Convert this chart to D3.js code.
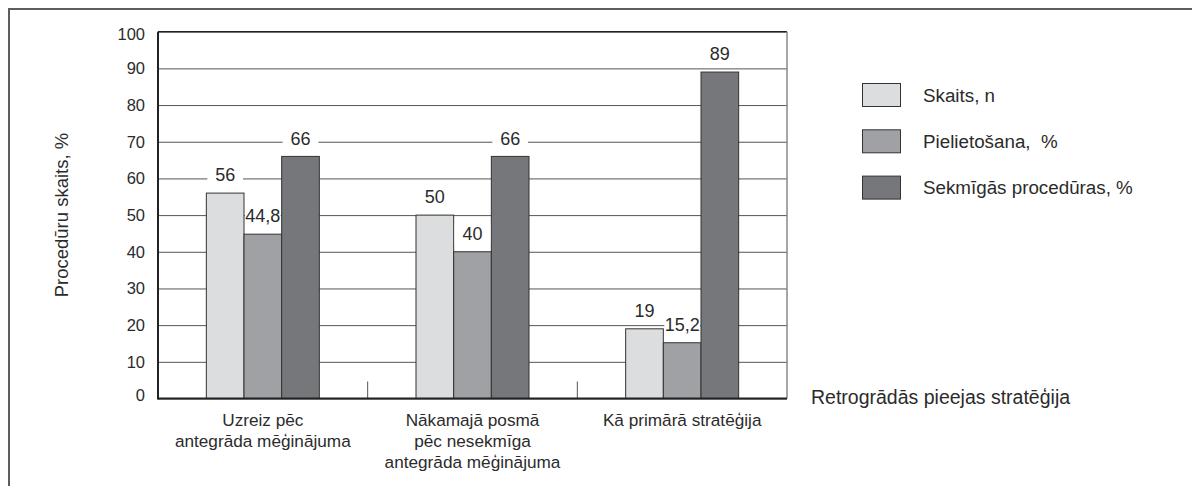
<!DOCTYPE html>
<html><head><meta charset="utf-8">
<script src="https://cdn.jsdelivr.net/npm/d3@7"></script>
<style>body{margin:0;background:#fff}svg{display:block}text{font-family:"Liberation Sans","DejaVu Sans",sans-serif;fill:#2b2b2b;white-space:pre}</style>
</head><body>
<script>
const categories = [["Uzreiz pēc","antegrāda mēģinājuma"],["Nākamajā posmā","pēc nesekmīga","antegrāda mēģinājuma"],["Kā primārā stratēģija"]];
const seriesNames = ["Skaits, n","Pielietošana,  %","Sekmīgās procedūras, %"];
const skaits = [56, 50, 19];
const pielietosana = [44.8, 40, 15.2];
const sekmigas = [66, 66, 89];
const valueLabels = [["56","50","19"],["44,8","40","15,2"],["66","66","89"]];
const yTicks = [0,10,20,30,40,50,60,70,80,90,100];
const colors = ["#dcdddf","#a0a1a4","#76777b"];
const series = [skaits, pielietosana, sekmigas];

const W = 1192, H = 486;
const svg = d3.select("body").append("svg").attr("width", W).attr("height", H);
const m = {l:158, r:787, t:31.7, b:398.5};

// outer frame (top + left)
svg.append("line").attr("x1",9).attr("x2",W).attr("y1",9).attr("y2",9).attr("stroke","#5e5e5e").attr("stroke-width",2);
svg.append("line").attr("x1",9).attr("x2",9).attr("y1",8).attr("y2",H).attr("stroke","#5e5e5e").attr("stroke-width",2);

const x = d3.scaleBand().domain(d3.range(categories.length)).range([m.l, m.r]).paddingInner(0).paddingOuter(0);
const groupW = 113;
const x1 = d3.scaleBand().domain(d3.range(series.length))
  .range([(x.bandwidth()-groupW)/2, (x.bandwidth()+groupW)/2]).paddingInner(0).paddingOuter(0);
const y = d3.scaleLinear().domain([0,100]).range([m.b, m.t]);

// gridlines
const yAxis = d3.axisLeft(y).tickValues(yTicks).tickSize(-(m.r-m.l)).tickFormat(d=>d);
const ga = svg.append("g").attr("transform",`translate(${m.l},0)`).call(yAxis);
ga.select(".domain").remove();
ga.selectAll(".tick line").attr("stroke","#555").attr("stroke-width",1);
ga.selectAll(".tick text").attr("x",-13).style("font-size","16.5px").attr("fill","#2b2b2b")
  .attr("dy", d => d===100 ? "0.5em" : d===0 ? "0.1em" : "0.32em");

// plot border top & right
svg.append("line").attr("x1",m.l).attr("x2",m.r).attr("y1",m.t).attr("y2",m.t).attr("stroke","#222").attr("stroke-width",1.3);
svg.append("line").attr("x1",m.r).attr("x2",m.r).attr("y1",m.t).attr("y2",m.b).attr("stroke","#888").attr("stroke-width",1.5);

// category separators
d3.range(1, categories.length).forEach(i=>{
  const xx = x(i);
  svg.append("line").attr("x1",xx).attr("x2",xx).attr("y1",m.b-17).attr("y2",m.b).attr("stroke","#555").attr("stroke-width",1);
});

// bars
const bw = x1.bandwidth();
series.forEach((s, si)=>{
  s.forEach((v, ci)=>{
    const bx = x(ci) + x1(si);
    svg.append("rect").attr("x",bx).attr("y",y(v)).attr("width",bw).attr("height",m.b-y(v))
      .attr("fill",colors[si]).attr("stroke","#333").attr("stroke-width",1);
  });
});
// value labels
series.forEach((s, si)=>{
  s.forEach((v, ci)=>{
    const bx = x(ci) + x1(si);
    const cy = y(v) - 18;
    svg.append("rect").attr("x",bx+1).attr("y",cy-10).attr("width",bw-2).attr("height",20).attr("fill","#fff");
    svg.append("text").attr("x",bx+bw/2).attr("y",cy).attr("dy","0.35em").attr("text-anchor","middle")
      .style("font-size","18px").text(valueLabels[si][ci]);
  });
});

// axis lines
svg.append("line").attr("x1",m.l).attr("x2",m.r).attr("y1",m.b).attr("y2",m.b).attr("stroke","#222").attr("stroke-width",2);
svg.append("line").attr("x1",m.l).attr("x2",m.l).attr("y1",m.t).attr("y2",m.b+1).attr("stroke","#222").attr("stroke-width",2);

// category labels
categories.forEach((lines, ci)=>{
  const t = svg.append("text").attr("text-anchor","middle").style("font-size","17.2px");
  lines.forEach((ln, li)=>{
    t.append("tspan").attr("x", x(ci)+x.bandwidth()/2).attr("y", 420 + li*20.8).attr("dy","0.35em").text(ln);
  });
});

// y-axis title
svg.append("text").attr("transform",`translate(62,${(m.t+m.b)/2}) rotate(-90)`).attr("text-anchor","middle")
  .attr("dy","0.35em").style("font-size","18.5px").text("Procedūru skaits, %");

// x-axis title
svg.append("text").attr("x",811).attr("y",397).attr("dy","0.35em").style("font-size","19.5px").text("Retrogrādās pieejas stratēģija");

// legend
seriesNames.forEach((n, i)=>{
  const ly = 83.5 + i*46.3;
  svg.append("rect").attr("x",862.5).attr("y",ly).attr("width",38).attr("height",23).attr("fill",colors[i]).attr("stroke","#333").attr("stroke-width",1);
  svg.append("text").attr("x",923).attr("y",ly+11.5).attr("dy","0.35em").style("font-size","18.8px").text(n);
});
</script>
</body></html>
